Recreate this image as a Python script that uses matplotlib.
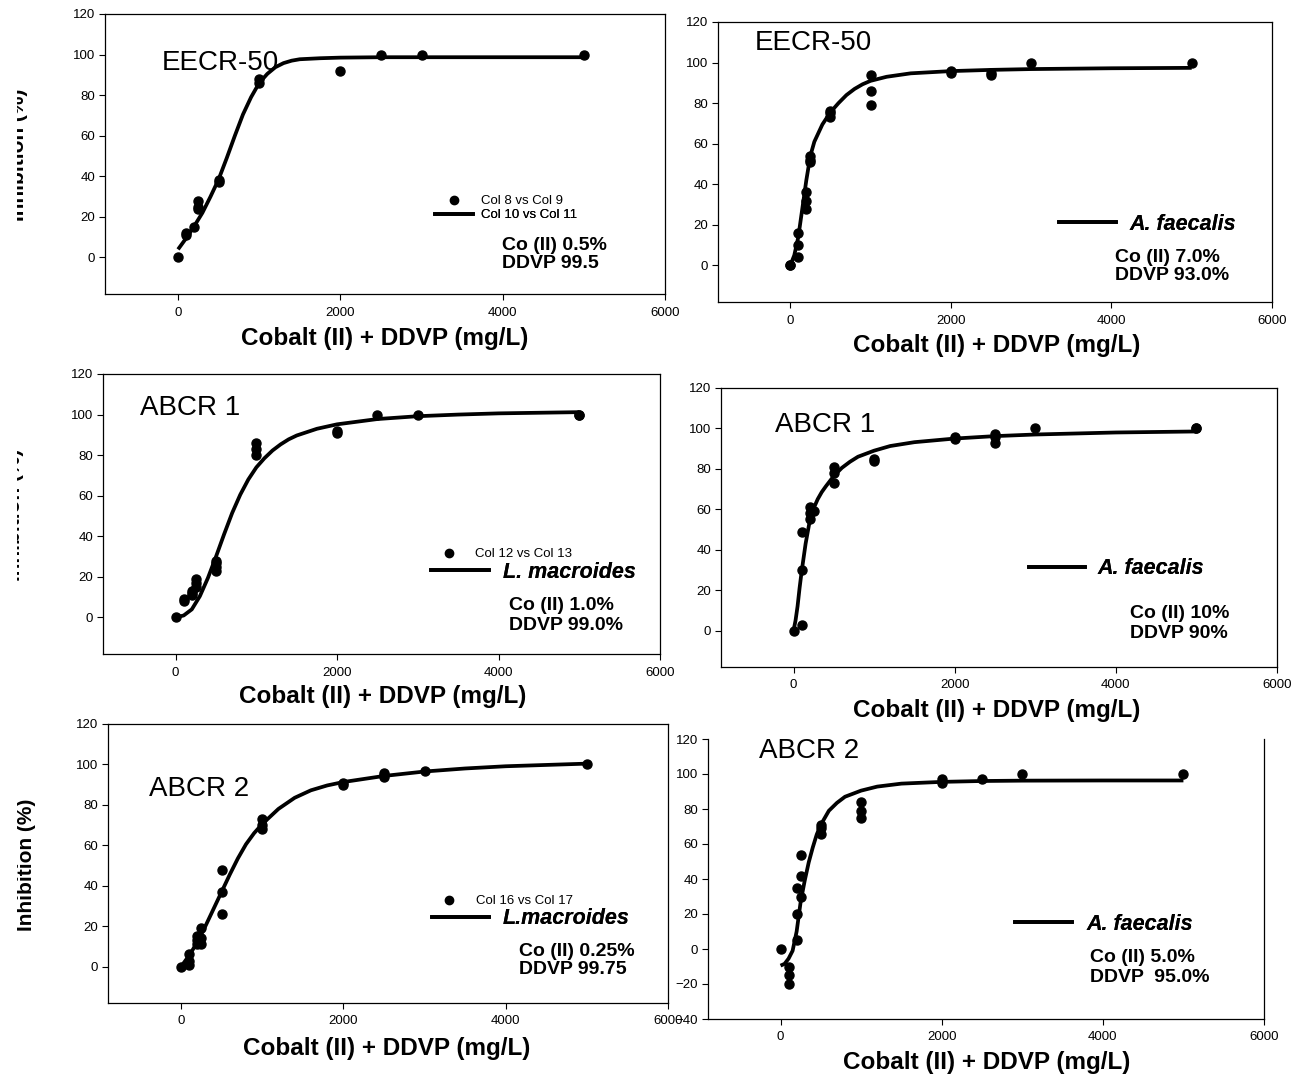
import matplotlib
matplotlib.use("Agg")
import matplotlib.pyplot as plt
from matplotlib.lines import Line2D
from matplotlib.transforms import Bbox, TransformedBbox

plt.rcParams["font.family"] = ["Liberation Sans", "DejaVu Sans"]

# ---------------- data ----------------
# EECR-50, L. macroides
eecr_lm_conc = [0, 100, 100, 200, 250, 250, 250, 500, 500, 1000, 1000, 2000, 2500, 3000, 5000]
eecr_lm_inhib = [0, 12, 11, 15, 28, 25, 24, 38, 37, 88, 86, 92, 100, 100, 100]
eecr_lm_fit_conc = [0, 100, 200, 300, 400, 500, 600, 700, 800, 900, 1000, 1100, 1200, 1300,
                    1400, 1500, 1750, 2000, 2500, 3000, 4000, 5000]
eecr_lm_fit_inhib = [4, 9.5, 15.5, 22, 30, 38.5, 49, 60, 70.5, 79, 86, 90.5, 93.8, 95.8,
                     97, 97.7, 98.2, 98.5, 98.7, 98.7, 98.7, 98.7]

# EECR-50, A. faecalis
eecr_af_conc = [0, 0, 100, 100, 100, 200, 200, 200, 250, 250, 250, 500, 500, 500,
                1000, 1000, 1000, 2000, 2000, 2500, 2500, 3000, 5000]
eecr_af_inhib = [0, 0, 16, 10, 4, 36, 32, 28, 54, 52, 51, 76, 75, 73,
                 94, 86, 79, 96, 95, 95, 94, 100, 100]
eecr_af_fit_conc = [0, 50, 100, 150, 200, 250, 300, 400, 500, 600, 700, 800, 900, 1000,
                    1200, 1500, 2000, 2500, 3000, 4000, 5000]
eecr_af_fit_inhib = [0, 5, 14, 28, 42, 54, 61, 69.5, 75.5, 80, 84, 87, 89.3, 91,
                     93, 94.7, 95.8, 96.4, 96.8, 97.2, 97.4]

# ABCR 1, L. macroides
abcr1_lm_conc = [0, 100, 100, 200, 200, 200, 250, 250, 250, 500, 500, 500, 500,
                 1000, 1000, 1000, 2000, 2000, 2500, 3000, 5000, 5000]
abcr1_lm_inhib = [0, 9, 8, 13, 12, 11, 19, 17, 15, 28, 27, 25, 23,
                  86, 83, 80, 92, 91, 100, 100, 100, 100]
abcr1_lm_fit_conc = [0, 100, 200, 300, 400, 500, 600, 700, 800, 900, 1000, 1100, 1200, 1300,
                     1400, 1500, 1750, 2000, 2500, 3000, 3500, 4000, 5000]
abcr1_lm_fit_inhib = [0, 1, 4, 10.5, 19.5, 30, 41, 51.5, 60.5, 68, 74, 78.5, 82.3, 85.3,
                      87.8, 89.7, 93, 95.2, 97.8, 99.2, 100, 100.6, 101.2]

# ABCR 1, A. faecalis
abcr1_af_conc = [0, 100, 100, 100, 200, 200, 200, 250, 500, 500, 500, 1000, 1000,
                 2000, 2000, 2500, 2500, 2500, 3000, 5000, 5000]
abcr1_af_inhib = [0, 49, 30, 3, 61, 58, 55, 59, 81, 78, 73, 85, 84,
                  96, 95, 97, 96, 93, 100, 100, 100]
abcr1_af_fit_conc = [0, 25, 50, 75, 100, 150, 200, 250, 300, 350, 400, 500, 600, 700, 800,
                     1000, 1200, 1500, 2000, 2500, 3000, 4000, 5000]
abcr1_af_fit_inhib = [0, 5, 12, 21, 29, 43, 54, 60.5, 65, 68.5, 71.3, 76.5, 80.5, 83.5, 86,
                      89, 91.3, 93.2, 95, 96.2, 97, 98, 98.5]

# ABCR 2, L. macroides
abcr2_lm_conc = [0, 100, 100, 100, 200, 200, 200, 250, 250, 250, 500, 500, 500,
                 1000, 1000, 1000, 2000, 2000, 2500, 2500, 2500, 3000, 5000]
abcr2_lm_inhib = [0, 6, 3, 1, 15, 13, 11, 19, 14, 11, 48, 37, 26,
                  73, 70, 68, 91, 90, 96, 95, 94, 97, 100]
abcr2_lm_fit_conc = [0, 100, 200, 300, 400, 500, 600, 700, 800, 900, 1000, 1200, 1400,
                     1600, 1800, 2000, 2500, 3000, 3500, 4000, 5000]
abcr2_lm_fit_inhib = [0, 5.5, 12, 20, 28.5, 37, 45.5, 53.5, 60.5, 66, 70.5, 78, 83.5,
                      87.2, 89.6, 91.3, 94.3, 96.5, 98, 99.1, 100.4]

# ABCR 2, A. faecalis
abcr2_af_conc = [0, 100, 100, 100, 200, 200, 200, 250, 250, 250, 500, 500, 500,
                 1000, 1000, 1000, 2000, 2000, 2500, 3000, 5000]
abcr2_af_inhib = [0, -10, -15, -20, 5, 20, 35, 30, 42, 54, 71, 69, 66,
                  84, 79, 75, 97, 95, 97, 100, 100]
abcr2_af_fit_conc = [0, 50, 100, 150, 200, 250, 300, 350, 400, 450, 500, 600, 700, 800,
                     1000, 1200, 1500, 2000, 2500, 3000, 4000, 5000]
abcr2_af_fit_inhib = [-9.5, -8.5, -5.5, -1, 10, 27, 39, 49.5, 58, 65.5, 71, 79, 83.5, 87,
                      90.5, 92.8, 94.5, 95.5, 96, 96.2, 96.3, 96.3]

x_ticks = [0, 2000, 4000, 6000]
x_label = "Cobalt (II) + DDVP (mg/L)"
y_label = "Inhibition (%)"

# ---------------- layout ----------------
W, H = 1307, 1078
fig = plt.figure(figsize=(W / 100, H / 100), dpi=100)

FS_TICK = 9.5
FS_TITLE = 20
FS_NOTE = 14
FS_XLAB = 17.5
FS_YLAB = 15
FS_LEG_BIG = 15.5
FS_LEG_SMALL = 9.5


def fx(x):
    return x / W


def fy(y):
    return 1 - y / H


panels = [
    dict(box=(105, 14, 665, 294), ylim=(-18, 120), yticks=range(0, 121, 20),
         conc=eecr_lm_conc, inhib=eecr_lm_inhib, fc=eecr_lm_fit_conc, fi=eecr_lm_fit_inhib,
         title="EECR-50", title_xy=(162, 63),
         legend=[("pt", "Col 8 vs Col 9", 435, 201, 2.9, 0.55),
                 ("ln", "Col 10 vs Col 11", 435, 215, 2.9, 0.55)],
         note=("Co (II) 0.5%", "DDVP 99.5"), note_xy=(502, 245, 263),
         xlab_xy=(385, 338), ylab_xy=(19, 155), top=True),
    dict(box=(718, 22, 1272, 302), ylim=(-18, 120), yticks=range(0, 121, 20),
         conc=eecr_af_conc, inhib=eecr_af_inhib, fc=eecr_af_fit_conc, fi=eecr_af_fit_inhib,
         title="EECR-50", title_xy=(755, 43),
         legend=[("ln", "A. faecalis", 1059, 224, 2.65, 0.6)],
         note=("Co (II) 7.0%", "DDVP 93.0%"), note_xy=(1115, 257, 275),
         xlab_xy=(997, 346), ylab_xy=None, top=True),
    dict(box=(103, 374, 660, 654), ylim=(-18, 120), yticks=range(0, 121, 20),
         conc=abcr1_lm_conc, inhib=abcr1_lm_inhib, fc=abcr1_lm_fit_conc, fi=abcr1_lm_fit_inhib,
         title="ABCR 1", title_xy=(140, 408),
         legend=[("pt", "Col 12 vs Col 13", 431, 554, 2.7, 0.65),
                 ("ln", "L. macroides", 431, 572, 2.7, 0.65)],
         note=("Co (II) 1.0%", "DDVP 99.0%"), note_xy=(509, 605, 625),
         xlab_xy=(383, 697), ylab_xy=(15, 515), top=True),
    dict(box=(721, 388, 1277, 667), ylim=(-18, 120), yticks=range(0, 121, 20),
         conc=abcr1_af_conc, inhib=abcr1_af_inhib, fc=abcr1_af_fit_conc, fi=abcr1_af_fit_inhib,
         title="ABCR 1", title_xy=(775, 425),
         legend=[("ln", "A. faecalis", 1029, 569, 2.6, 0.6)],
         note=("Co (II) 10%", "DDVP 90%"), note_xy=(1130, 614, 633),
         xlab_xy=(997, 711), ylab_xy=None, top=True),
    dict(box=(108, 724, 668, 1003), ylim=(-18, 120), yticks=range(0, 121, 20),
         conc=abcr2_lm_conc, inhib=abcr2_lm_inhib, fc=abcr2_lm_fit_conc, fi=abcr2_lm_fit_inhib,
         title="ABCR 2", title_xy=(149, 789),
         legend=[("pt", "Col 16 vs Col 17", 432, 901, 2.65, 0.65),
                 ("ln", "L.macroides", 432, 919, 2.65, 0.65)],
         note=("Co (II) 0.25%", "DDVP 99.75"), note_xy=(519, 952, 970),
         xlab_xy=(387, 1049), ylab_xy=(26, 865), top=True),
    dict(box=(708, 739, 1264, 1019), ylim=(-40, 120), yticks=range(-40, 121, 20),
         conc=abcr2_af_conc, inhib=abcr2_af_inhib, fc=abcr2_af_fit_conc, fi=abcr2_af_fit_inhib,
         title="ABCR 2", title_xy=(759, 751),
         legend=[("ln", "A. faecalis", 1015, 924, 2.65, 0.65)],
         note=("Co (II) 5.0%", "DDVP  95.0%"), note_xy=(1090, 958, 978),
         xlab_xy=(987, 1062), ylab_xy=None, top=False),
]

# the y-axis titles are trimmed on the left, as in the assembled figure
ylab_clip = TransformedBbox(Bbox.from_extents(17 / W, 0, 1, 1), fig.transFigure)

for p in panels:
    l, t, r, b = p["box"]
    ax = fig.add_axes([fx(l), fy(b), (r - l) / W, (b - t) / H])
    ax.plot(p["fc"], p["fi"], color="black", lw=2.7, solid_capstyle="butt", zorder=2)
    ax.plot(p["conc"], p["inhib"], "o", color="black", ms=6.5, ls="none", zorder=3)
    ax.set_xlim(-900, 6000)
    ax.set_ylim(*p["ylim"])
    ax.set_xticks(x_ticks)
    ax.set_yticks(list(p["yticks"]))
    ax.tick_params(axis="both", direction="out", length=4, width=0.8, labelsize=FS_TICK)
    ax.tick_params(axis="x", pad=5)
    ax.tick_params(axis="y", pad=3)
    for s in ax.spines.values():
        s.set_linewidth(0.9)
    if not p["top"]:
        ax.spines["top"].set_visible(False)

    # panel title inside the axes
    fig.text(fx(p["title_xy"][0]), fy(p["title_xy"][1]), p["title"],
             fontsize=FS_TITLE, ha="left", va="center")

    # legend rows, one legend per row so each row sits at its own height
    for kind, lab, hx, hy, hl, pad in p["legend"]:
        if kind == "pt":
            h = Line2D([], [], marker="o", ls="none", color="black", ms=6)
            fs = FS_LEG_SMALL
        else:
            h = Line2D([], [], color="black", lw=2.7)
            fs = FS_LEG_SMALL if lab.startswith("Col") else FS_LEG_BIG
        leg = ax.legend([h], [lab], loc="center left",
                        bbox_to_anchor=(fx(hx), fy(hy)),
                        bbox_transform=fig.transFigure, frameon=False,
                        borderpad=0, borderaxespad=0, handlelength=hl,
                        handletextpad=pad, fontsize=fs)
        if fs == FS_LEG_BIG:
            leg.get_texts()[0].set_fontweight("bold")
            leg.get_texts()[0].set_fontstyle("italic")
        ax.add_artist(leg)

    # composition note
    nx, ny1, ny2 = p["note_xy"]
    fig.text(fx(nx), fy(ny1), p["note"][0], fontsize=FS_NOTE, fontweight="bold",
             ha="left", va="center")
    fig.text(fx(nx), fy(ny2), p["note"][1], fontsize=FS_NOTE, fontweight="bold",
             ha="left", va="center")

    # axis labels
    fig.text(fx(p["xlab_xy"][0]), fy(p["xlab_xy"][1]), x_label, fontsize=FS_XLAB,
             fontweight="bold", ha="center", va="center")
    if p["ylab_xy"] is not None:
        yl = fig.text(fx(p["ylab_xy"][0]), fy(p["ylab_xy"][1]), y_label, fontsize=FS_YLAB,
                      fontweight="bold", rotation=90, ha="center", va="center")
        yl.set_clip_box(ylab_clip)
        yl.set_clip_on(True)

fig.savefig("out.png", dpi=100)
